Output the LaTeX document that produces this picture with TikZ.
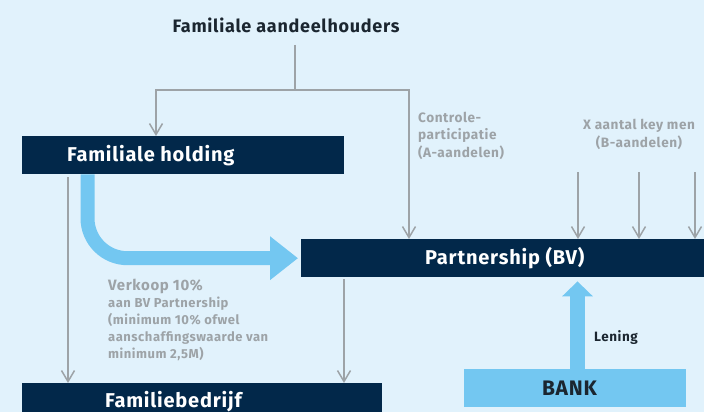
\documentclass[tikz,border=0pt]{standalone}
\usepackage{fontspec}
\setmainfont{Fira Sans}[LetterSpace=4]
\usetikzlibrary{arrows.meta,calc}
\definecolor{bg}{HTML}{E1F2FC}
\definecolor{navy}{HTML}{02284A}
\definecolor{sky}{HTML}{73C7F1}
\definecolor{line}{HTML}{9DA3A7}
\definecolor{ink}{HTML}{1B2630}
\begin{document}
\begin{tikzpicture}[x=1pt,y=-1pt,
  darkbox/.style={fill=navy,draw=none,inner sep=0pt,anchor=north west},
  skybox/.style={fill=sky,draw=none,inner sep=0pt,anchor=north west},
  boxtext/.style={text=white,font=\bfseries\fontsize{20}{24}\selectfont,inner sep=0pt,anchor=base west},
  note/.style={text=line,font=\bfseries\fontsize{13.6}{17.5}\selectfont,inner sep=0pt},
  grayarrow/.style={draw=line,line width=1.5pt,-{Straight Barb[width=13pt,length=11pt]}},
  flow/.style={draw=sky,line width=14pt}]
  % canvas
  \fill[bg] (0,0) rectangle (704,412);
  \useasboundingbox (0,0) rectangle (704,412);

  % boxes
  \node[darkbox,minimum width=322pt,minimum height=38pt] (holding) at (22,136) {};
  \node[darkbox,minimum width=420pt,minimum height=38pt] (partner) at (301,239) {};
  \node[darkbox,minimum width=360pt,minimum height=40pt] (bedrijf) at (22,383) {};
  \node[skybox,minimum width=222pt,minimum height=38pt] (bank) at (464,369) {};

  % box captions
  \node[boxtext] (holdingtxt) at (67,161) {Familiale holding};
  \node[boxtext] (partnertxt) at (425,264.5) {Partnership (BV)};
  \node[boxtext] (bedrijftxt) at (105,407) {Familiebedrijf};
  \node[text=ink,font=\bfseries\fontsize{21}{24}\selectfont,inner sep=0pt,anchor=base] (banktxt) at (569.5,395) {BANK};

  % top heading
  \node[text=ink,font=\bfseries\fontsize{18}{20}\selectfont,inner sep=0pt,anchor=base] (title) at (286,33) {Familiale aandeelhouders};

  % ownership lines from the shareholders
  \coordinate (split) at (295,90);
  \draw[draw=line,line width=1.5pt] (295,45) -- (split);
  \draw[grayarrow] (split) -| ($(holding.north west)+(134,0)$);
  \draw[grayarrow] (split) -| ($(partner.north west)+(108,0)$);

  % key men
  \foreach \k/\x in {1/578,2/639,3/695}{
    \coordinate (key\k) at (\x,172);
    \draw[grayarrow] (key\k) -- (key\k |- partner.north);
  }

  % holdings into the family company
  \draw[grayarrow] ($(holding.south west)+(46,3)$) -- ($(bedrijf.north west)+(46,0)$);
  \draw[grayarrow] ($(partner.south west)+(43,2)$) -- ($(bedrijf.north west)+(322,0)$);

  % sale of 10% to the partnership
  \draw[flow,rounded corners=40pt,-{Triangle[width=42pt,length=28pt]},shorten >=3pt]
    ($(holding.south west)+(65.5,0)$) |- (partner.west);

  % bank loan
  \draw[flow,line width=15pt,-{Triangle[width=30pt,length=15pt]},shorten >=4pt]
    (bank.north -| 577.5,0) -- (partner.south -| 577.5,0);

  % labels (multi-line nodes are anchored on their last baseline)
  \node[note,anchor=base west,align=left] (ctrl) at (418,157)
    {Controle-\\participatie\\(A-aandelen)};
  \node[note,anchor=base,align=center] (keymen) at (639,147)
    {X aantal key men\\(B-aandelen)};
  \node[text=line,font=\bfseries\fontsize{15}{17}\selectfont,inner sep=0pt,anchor=base west] (verkoop) at (108,290) {Verkoop 10\%};
  \node[note,font=\bfseries\fontsize{13}{17}\selectfont,anchor=base west,align=left] (verkoopnote) at (108,358)
    {aan BV Partnership\\(minimum 10\% ofwel\\aanschaffingswaarde van\\minimum 2,5M)};
  \node[text=ink,font=\bfseries\fontsize{13.5}{16}\selectfont,inner sep=0pt,anchor=base west] (lening) at (594,341) {Lening};
\end{tikzpicture}
\end{document}
